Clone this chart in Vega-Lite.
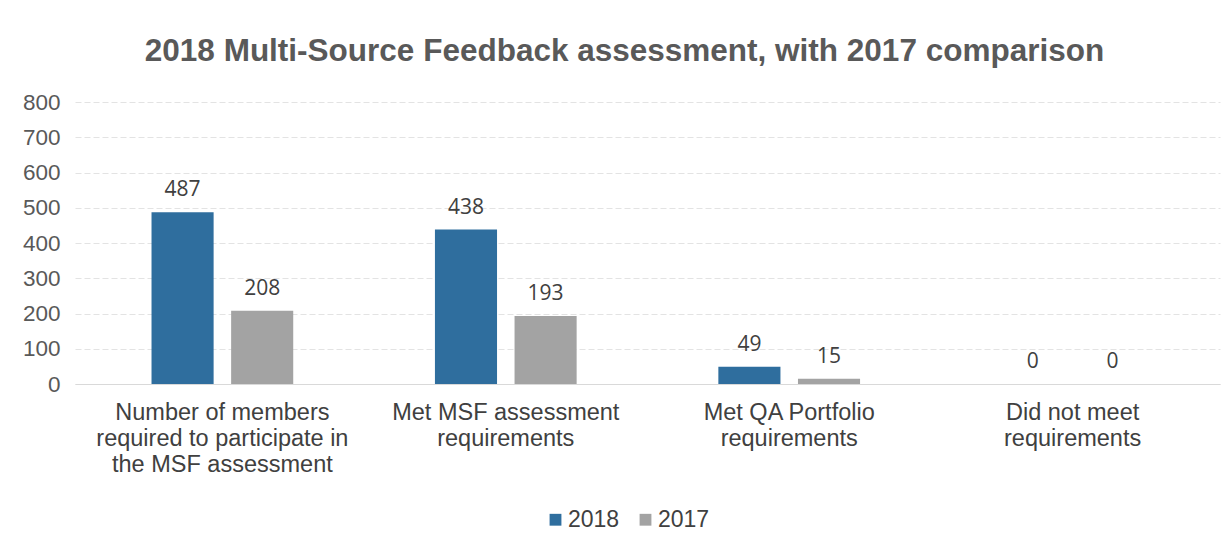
{
  "$schema": "https://vega.github.io/schema/vega-lite/v6.json",
  "autosize": "none",
  "width": 1145,
  "height": 282,
  "padding": {"left": 75, "top": 102, "right": 11, "bottom": 170},
  "background": "white",
  "title": {
    "text": "2018 Multi-Source Feedback assessment, with 2017 comparison",
    "font": "Liberation Sans",
    "fontSize": 31.5,
    "fontWeight": "bold",
    "color": "#595959",
    "anchor": "middle",
    "offset": 24,
    "dx": -23
  },
  "data": {
    "values": [
      {"category": "Number of members required to participate in the MSF assessment", "year": "2018", "value": 487},
      {"category": "Number of members required to participate in the MSF assessment", "year": "2017", "value": 208},
      {"category": "Met MSF assessment requirements", "year": "2018", "value": 438},
      {"category": "Met MSF assessment requirements", "year": "2017", "value": 193},
      {"category": "Met QA Portfolio requirements", "year": "2018", "value": 49},
      {"category": "Met QA Portfolio requirements", "year": "2017", "value": 15},
      {"category": "Did  not meet requirements", "year": "2018", "value": 0},
      {"category": "Did  not meet requirements", "year": "2017", "value": 0}
    ]
  },
  "encoding": {
    "x": {
      "field": "category",
      "type": "nominal",
      "sort": ["Number of members required to participate in the MSF assessment", "Met MSF assessment requirements", "Met QA Portfolio requirements", "Did  not meet requirements"],
      "scale": {"paddingInner": 0.5, "paddingOuter": 0.27},
      "axis": {
        "title": null,
        "labelAngle": 0,
        "labelFont": "Liberation Sans",
        "labelFontSize": 23.5,
        "labelColor": "#404040",
        "labelLineHeight": 26,
        "labelPadding": 16,
        "labelLimit": 400,
        "labelExpr": "datum.value == 'Number of members required to participate in the MSF assessment' ? ['Number of members', 'required to participate in', 'the MSF assessment'] : datum.value == 'Met MSF assessment requirements' ? ['Met MSF assessment', 'requirements'] : datum.value == 'Met QA Portfolio requirements' ? ['Met QA Portfolio', 'requirements'] : ['Did  not meet', 'requirements']",
        "ticks": false,
        "domainColor": "#d9d9d9",
        "domainWidth": 1,
        "grid": false
      }
    },
    "xOffset": {
      "field": "year",
      "type": "nominal",
      "sort": ["2018", "2017"],
      "scale": {"paddingInner": 0.22, "paddingOuter": 0}
    },
    "y": {
      "field": "value",
      "type": "quantitative",
      "scale": {"domain": [0, 800]},
      "axis": {
        "title": null,
        "values": [0, 100, 200, 300, 400, 500, 600, 700, 800],
        "labelFont": "Liberation Sans",
        "labelFontSize": 22.5,
        "labelColor": "#595959",
        "labelPadding": 15,
        "ticks": false,
        "domain": false,
        "gridColor": "#e3e3e3",
        "gridWidth": 1,
        "gridDash": [6, 3]
      }
    },
    "color": {
      "field": "year",
      "type": "nominal",
      "sort": ["2018", "2017"],
      "scale": {"domain": ["2018", "2017"], "range": ["#2f6e9e", "#a3a3a3"]},
      "legend": {
        "title": null,
        "orient": "none",
        "direction": "horizontal",
        "legendX": 469,
        "legendY": 406,
        "symbolType": "square",
        "symbolSize": 140,
        "symbolStrokeWidth": 0,
        "labelFont": "Liberation Sans",
        "labelFontSize": 23,
        "labelColor": "#404040",
        "labelOffset": 1,
        "columnPadding": 14
      }
    }
  },
  "layer": [
    {"mark": {"type": "bar", "stroke": null}},
    {
      "mark": {"type": "text", "baseline": "bottom", "dy": -12, "font": "Open Sans", "fontSize": 21, "color": "#404040"},
      "encoding": {
        "text": {"field": "value", "type": "quantitative"},
        "color": {"value": "#404040"}
      }
    }
  ],
  "config": {"view": {"stroke": null}}
}
